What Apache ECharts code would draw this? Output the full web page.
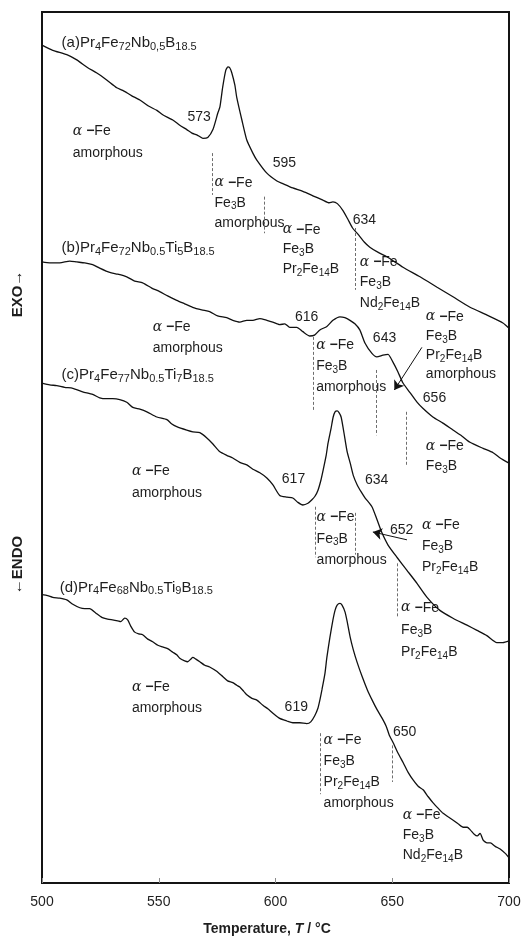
<!DOCTYPE html>
<html>
<head>
<meta charset="utf-8">
<script src="https://cdn.jsdelivr.net/npm/echarts@6/dist/echarts.min.js"></script>
<style>
  html, body { margin: 0; padding: 0; background: #fff; }
  #chart { width: 522px; height: 938px; }
</style>
</head>
<body>
<div id="chart"></div>
<script>
// DTA traces: [temperature (°C), signal (a.u., curves offset vertically)]
const curveA = [
  [500,96.2],[504.6,95.6],[510.6,95.1],[514.9,94.5],[519.6,93.6],[523.5,93.0],[527.7,92.2],[532.0,91.3],
  [534.6,91.0],[538.3,90.4],[541.9,89.9],[545.6,89.2],[549.2,88.7],[551.7,88.2],[556.0,87.6],[559.0,87.0],
  [562.0,86.5],[564.2,86.1],[566.3,85.9],[568.9,85.5],[571.0,85.6],[573.2,86.5],[575.3,88.4],[576.2,89.1],
  [577.4,91.4],[578.7,93.3],[579.6,93.7],[580.4,93.6],[581.3,93.0],[582.6,91.6],[583.4,90.2],[585.6,87.6],
  [587.7,85.3],[590.3,83.8],[592.0,83.0],[596.3,81.5],[600.6,80.6],[603.1,80.3],[607.4,79.8],[611.7,79.4],
  [616.0,78.9],[620.3,78.4],[623.0,78.1],[624.6,78.2],[626.5,78.0],[628.9,77.2],[631.0,76.2],[633.0,75.2],
  [635.3,74.5],[638.0,73.6],[640.4,73.0],[644.0,72.4],[647.7,71.9],[654.6,70.7],[661.9,69.6],[669.2,68.4],
  [676.0,67.3],[683.3,66.1],[690.6,65.2],[697.4,64.3],[700,63.7]
];
const curveB = [
  [500,71.3],[503.3,71.2],[507.6,71.2],[511.9,71.4],[514.9,71.3],[518.3,71.2],[521.7,71.0],[524.7,70.6],
  [529.0,70.1],[532.4,69.9],[536.3,69.6],[539.7,69.1],[543.1,68.9],[547.0,68.3],[550.4,67.9],[553.8,67.4],
  [557.7,66.9],[561.1,66.5],[564.5,66.1],[568.4,65.8],[571.8,65.6],[575.2,65.1],[579.1,64.9],[581.7,64.6],
  [584.7,64.4],[587.7,64.6],[590.3,64.6],[593.3,64.8],[596.3,64.6],[598.8,64.4],[601.8,64.1],[604.0,64.2],
  [606.1,63.8],[609.1,63.8],[611.7,63.3],[614.7,62.8],[616.7,62.9],[619.0,63.5],[622.0,63.9],[624.6,64.6],
  [627.6,65.0],[629.7,64.9],[631.9,64.6],[634.0,64.2],[636.1,63.5],[638.3,62.0],[641.3,60.8],[643.4,60.4],
  [646.0,60.6],[648.2,60.7],[650.3,59.8],[652.4,58.7],[654.6,57.4],[657.6,56.3],[660.6,55.2],[663.1,54.5],
  [667.4,53.5],[671.7,52.8],[676.0,52.0],[679.9,51.3],[683.3,50.6],[688.9,49.9],[693.2,49.4],[696.2,48.8],
  [700,48.2]
];
const curveC = [
  [500,57.4],[503.3,57.2],[506.3,57.1],[509.7,56.9],[513.2,56.8],[517.4,56.4],[521.7,56.1],[524.7,55.7],
  [527.7,55.6],[530.3,55.6],[533.3,55.5],[536.3,55.2],[538.9,54.6],[541.9,54.4],[544.9,54.1],[549.2,53.5],
  [553.5,53.2],[555.6,52.7],[557.7,52.4],[562.0,52.0],[564.6,51.8],[567.6,51.7],[570.6,51.1],[573.2,50.4],
  [576.2,49.5],[579.1,49.1],[581.7,48.8],[584.7,48.3],[587.7,48.0],[590.3,47.5],[593.3,47.1],[596.3,46.5],
  [598.9,45.7],[601.8,44.5],[604.9,44.3],[607.4,44.2],[609.6,43.7],[611.7,43.4],[613.9,43.6],[615.6,44.0],
  [616.9,44.4],[618.2,45.1],[619.5,46.3],[620.4,47.4],[621.7,49.1],[622.5,50.5],[623.8,52.2],[624.7,53.5],
  [625.5,54.1],[626.4,54.2],[627.2,54.0],[628.1,53.5],[629.0,52.2],[629.8,50.9],[630.7,49.5],[632.0,48.2],
  [633.3,46.8],[635.0,45.7],[636.7,44.9],[638.4,44.2],[641.3,43.2],[643.5,41.7],[645.6,40.2],[648.2,38.8],
  [652.0,37.4],[656.3,35.9],[660.6,34.4],[664.9,32.8],[670.4,31.3],[676.0,30.4],[682.0,29.6],[686.3,29.0],
  [690.5,28.4],[694.8,27.6],[697.4,27.6],[700,27.8]
];
const curveD = [
  [500,33.1],[502.4,33.0],[504.6,32.8],[507.6,32.7],[510.6,32.5],[513.2,32.0],[516.2,31.6],[518.3,31.5],
  [520.4,31.5],[523.0,31.0],[525.6,30.5],[528.1,30.3],[530.3,30.2],[532.4,30.1],[533.7,30.0],[535.4,30.4],
  [536.7,30.2],[538.0,29.5],[539.7,28.8],[541.4,28.6],[543.1,28.5],[545.3,28.0],[547.4,27.7],[549.6,27.3],
  [551.7,27.1],[553.8,26.9],[556.0,26.5],[557.7,26.2],[559.0,25.8],[561.1,25.5],[562.4,25.4],[563.7,25.7],
  [564.6,25.9],[565.9,25.7],[567.6,25.4],[569.7,25.0],[571.8,24.8],[574.8,24.3],[577.4,23.7],[579.5,23.2],
  [581.7,23.0],[583.4,22.7],[584.7,22.5],[586.4,22.0],[587.7,21.6],[589.9,21.2],[592.0,21.0],[594.6,20.4],
  [596.7,20.0],[598.9,19.5],[601.8,18.9],[604.9,18.6],[607.4,18.4],[610.4,18.4],[613.4,18.3],[615.1,18.5],
  [616.8,19.2],[618.2,20.1],[619.0,21.0],[619.9,22.2],[621.2,24.1],[622.0,25.9],[623.3,28.2],[624.6,30.2],
  [625.5,31.3],[626.4,31.9],[627.6,32.1],[628.5,31.9],[629.8,31.1],[630.7,30.0],[632.0,28.2],[633.3,26.8],
  [635.0,25.3],[637.1,23.7],[639.3,22.2],[641.4,21.0],[643.5,19.9],[645.7,18.9],[647.4,18.0],[648.7,17.0],
  [650.4,16.1],[652.5,14.9],[654.7,13.8],[656.8,12.7],[659.0,11.8],[661.1,11.1],[663.2,10.7],[665.4,9.9],
  [667.5,9.2],[669.6,8.6],[671.8,8.0],[673.9,7.6],[676.1,7.2],[678.2,6.8],[680.4,6.4],[682.1,6.4],
  [683.4,6.1],[685.1,5.6],[686.4,5.4],[687.6,5.7],[689.0,4.9],[690.6,4.6],[692.0,4.6],[694.1,4.2],
  [696.2,3.9],[698.4,3.4],[700,2.9]
];

// Sample compositions (digits after an element are written as subscripts)
const sampleNames = [
  '(a)Pr4Fe72Nb0,5B18.5',
  '(b)Pr4Fe72Nb0.5Ti5B18.5',
  '(c)Pr4Fe77Nb0.5Ti7B18.5',
  '(d)Pr4Fe68Nb0.5Ti9B18.5'
];

// Characteristic temperatures (°C) of each trace, marked with dashed guides
const onsetA = [573, 595, 634];
const onsetB = [616, 643, 656];
const onsetC = [617, 634, 652];
const onsetD = [619, 650];

// Temperature axis ticks
const xTicks = [500, 550, 600, 650, 700];

// ---- layout of the annotations (signal units for vertical placement) ----
const nameAnchors = [[508.4, 96.4], [508.4, 72.9], [508.4, 58.3], [507.6, 33.9]];
const guideSpans = [
  [[83.8, 79.0], [78.8, 74.6], [75.2, 68.1]],
  [[62.7, 54.3], [58.9, 51.4], [54.1, 47.8]],
  [[43.2, 37.4], [42.5, 37.7], [36.7, 30.5]],
  [[17.2, 10.2], [15.8, 11.6]]
];
const onsetLabelAnchors = [
  [[562.3, 87.9], [598.8, 82.7], [633.1, 76.1]],
  [[608.3, 65.0], [641.7, 62.6], [663.1, 55.7]],
  [[602.7, 46.4], [638.3, 46.3], [649.0, 40.5]],
  [[603.9, 20.2], [650.3, 17.3]]
];
const phaseNotes = [
  { at: [513.2, 86.3], gap: 22,   lines: ['α −Fe', 'amorphous'] },
  { at: [573.9, 80.4], gap: 20,   lines: ['α −Fe', 'Fe3B', 'amorphous'] },
  { at: [603.1, 75.0], gap: 19.5, lines: ['α −Fe', 'Fe3B', 'Pr2Fe14B'] },
  { at: [636.1, 71.3], gap: 20.5, lines: ['α −Fe', 'Fe3B', 'Nd2Fe14B'] },

  { at: [547.4, 63.8], gap: 21,   lines: ['α −Fe', 'amorphous'] },
  { at: [617.4, 61.7], gap: 21,   lines: ['α −Fe', 'Fe3B', 'amorphous'] },
  { at: [664.4, 65.0], gap: 19,   lines: ['α −Fe', 'Fe3B', 'Pr2Fe14B', 'amorphous'] },
  { at: [664.4, 50.1], gap: 20,   lines: ['α −Fe', 'Fe3B'] },

  { at: [538.5, 47.3], gap: 22,   lines: ['α −Fe', 'amorphous'] },
  { at: [617.6, 42.0], gap: 21.5, lines: ['α −Fe', 'Fe3B', 'amorphous'] },
  { at: [662.7, 41.1], gap: 21,   lines: ['α −Fe', 'Fe3B', 'Pr2Fe14B'] },
  { at: [653.8, 31.6], gap: 22,   lines: ['α −Fe', 'Fe3B', 'Pr2Fe14B'] },

  { at: [538.5, 22.5], gap: 21,   lines: ['α −Fe', 'amorphous'] },
  { at: [620.6, 16.4], gap: 21,   lines: ['α −Fe', 'Fe3B', 'Pr2Fe14B', 'amorphous'] },
  { at: [654.5, 7.8],  gap: 20,   lines: ['α −Fe', 'Fe3B', 'Nd2Fe14B'] }
];
// Pointer arrows: [tail, head] for traces (b) and (c)
const pointers = [
  { series: 1, from: [662.7, 61.5], to: [650.9, 56.6] },
  { series: 2, from: [656.3, 39.4], to: [641.7, 40.3] }
];

const FONT = '"Liberation Sans", Arial, sans-serif';
const INK = '#1e1e1e';
const curves = [curveA, curveB, curveC, curveD];
const onsets = [onsetA, onsetB, onsetC, onsetD];

const chart = echarts.init(document.getElementById('chart'), null, { renderer: 'canvas' });

const series = curves.map((data, i) => {
  const guides = onsets[i].map((t, k) => [
    { coord: [t, guideSpans[i][k][0]] },
    { coord: [t, guideSpans[i][k][1]] }
  ]);
  const arrows = pointers.filter(p => p.series === i).map(p => [
    { coord: p.from, symbol: 'none', lineStyle: { type: 'solid', color: '#111', width: 1 } },
    { coord: p.to, symbol: 'arrow', symbolSize: 9 }
  ]);
  return {
    type: 'line',
    name: sampleNames[i],
    data: data,
    showSymbol: false,
    symbol: 'none',
    smooth: 0.2,
    silent: true,
    lineStyle: { color: '#111', width: 1.3 },
    z: 3,
    markLine: {
      silent: true,
      animation: false,
      symbol: 'none',
      label: { show: false },
      emphasis: { disabled: true },
      lineStyle: { type: [3, 2], color: '#6e6e6e', width: 1 },
      data: guides.concat(arrows)
    }
  };
});

chart.setOption({
  animation: false,
  backgroundColor: '#ffffff',
  grid: {
    left: 42, right: 13, top: 12, bottom: 55,
    show: true, borderColor: '#141414', borderWidth: 2,
    containLabel: false, outerBoundsMode: 'none'
  },
  xAxis: {
    type: 'value',
    min: xTicks[0], max: xTicks[xTicks.length - 1], interval: xTicks[1] - xTicks[0],
    axisLine: { show: false },
    axisTick: { show: true, inside: true, length: 5, lineStyle: { color: '#8a8a8a', width: 1 } },
    axisLabel: { color: INK, fontSize: 14, fontFamily: FONT, margin: 12 },
    splitLine: { show: false }
  },
  yAxis: {
    type: 'value', min: 0, max: 100, show: false, splitLine: { show: false }
  },
  series: series
});

// ---- text annotations positioned through the chart's own axes ----
const px = (pt) => chart.convertToPixel({ gridIndex: 0 }, pt);

function richify(str) {
  return str
    .replace(/([A-Za-z])(\d[\d.,]*)/g, '$1{s|$2}')
    .replace(/α/g, '{g|α}')
    .replace(/ −/g, ' {d|−}');
}

function textStyle(text, size, subSize) {
  return {
    text: richify(text),
    fontFamily: FONT, fontSize: size, fill: INK,
    align: 'left', verticalAlign: 'middle', lineHeight: 18,
    rich: {
      s: { fontFamily: FONT, fontSize: subSize, fill: INK, verticalAlign: 'bottom', lineHeight: 15 },
      g: { fontFamily: '"DejaVu Serif", serif', fontStyle: 'italic', fontSize: size, fill: INK, lineHeight: 18 },
      d: { fontFamily: FONT, fontWeight: 'bold', fontSize: size, fill: INK, lineHeight: 18 }
    }
  };
}

const graphics = [];

sampleNames.forEach((name, i) => {
  const p = px(nameAnchors[i]);
  graphics.push({ type: 'text', x: p[0], y: p[1], silent: true, style: textStyle(name, 15, 11) });
});

onsets.forEach((list, i) => {
  list.forEach((t, k) => {
    const p = px(onsetLabelAnchors[i][k]);
    graphics.push({ type: 'text', x: p[0], y: p[1], silent: true, style: textStyle(String(t), 14, 10) });
  });
});

phaseNotes.forEach(note => {
  const p = px(note.at);
  note.lines.forEach((line, j) => {
    graphics.push({ type: 'text', x: p[0], y: p[1] + j * note.gap, silent: true, style: textStyle(line, 14, 10) });
  });
});

// vertical axis captions
graphics.push({
  type: 'text', x: 18, y: 294, rotation: Math.PI / 2, silent: true,
  style: { text: 'EXO→', fontFamily: FONT, fontWeight: 'bold', fontSize: 15, fill: INK, align: 'center', verticalAlign: 'middle' }
});
graphics.push({
  type: 'text', x: 18, y: 565, rotation: Math.PI / 2, silent: true,
  style: { text: '←ENDO', fontFamily: FONT, fontWeight: 'bold', fontSize: 15, fill: INK, align: 'center', verticalAlign: 'middle' }
});

// temperature axis title
graphics.push({
  type: 'text', x: 267, y: 929, silent: true,
  style: {
    text: '{b|Temperature, }{i|T}{b| / °C}',
    align: 'center', verticalAlign: 'middle',
    rich: {
      b: { fontFamily: FONT, fontWeight: 'bold', fontSize: 14, fill: INK },
      i: { fontFamily: FONT, fontWeight: 'bold', fontStyle: 'italic', fontSize: 14, fill: INK }
    }
  }
});

chart.setOption({ graphic: graphics });
</script>
</body>
</html>
